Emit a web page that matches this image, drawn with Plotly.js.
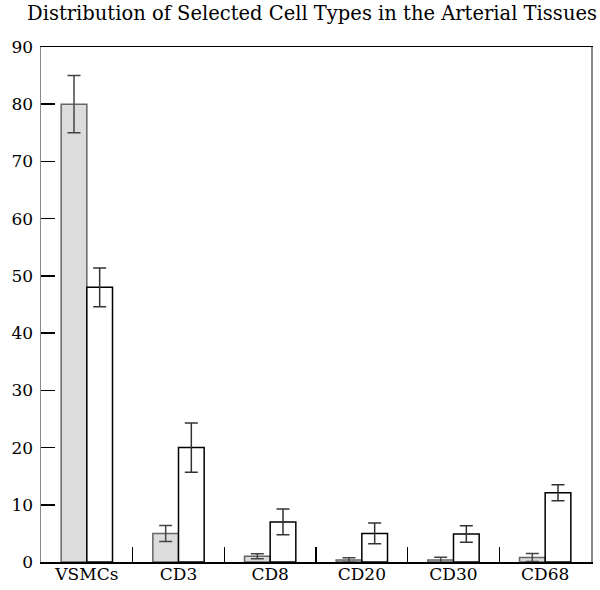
<!DOCTYPE html>
<html>
<head>
<meta charset="utf-8">
<script src="https://cdn.plot.ly/plotly-3.0.1.min.js"></script>
<style>html,body{margin:0;padding:0;background:#fff;}#chart{width:600px;height:590px;}</style>
</head>
<body>
<div id="chart"></div>
<script>
const categories = ["VSMCs", "CD3", "CD8", "CD20", "CD30", "CD68"];
const grayValues = [80, 5, 1, 0.35, 0.35, 0.8];
const grayErrors = [5, 1.4, 0.45, 0.4, 0.5, 0.7];
const whiteValues = [48, 20, 7, 5, 4.9, 12.1];
const whiteErrors = [3.4, 4.3, 2.25, 1.8, 1.45, 1.4];
const yTicks = [0, 10, 20, 30, 40, 50, 60, 70, 80, 90];

const font = {family: "DejaVu Serif", size: 17, color: "#000"};

const traces = [
  {
    type: "bar", x: categories, y: grayValues,
    marker: {color: "#dcdcdc", line: {color: "#666", width: 1.5}},
    error_y: {type: "data", array: grayErrors, visible: true, color: "#444", thickness: 1.5, width: 6.5},
    showlegend: false, hoverinfo: "skip"
  },
  {
    type: "bar", x: categories, y: whiteValues,
    marker: {color: "#ffffff", line: {color: "#000", width: 1.5}},
    error_y: {type: "data", array: whiteErrors, visible: true, color: "#333", thickness: 1.5, width: 6.5},
    showlegend: false, hoverinfo: "skip"
  }
];

const layout = {
  width: 600, height: 590,
  margin: {l: 41, r: 9, t: 47, b: 28, pad: 0},
  paper_bgcolor: "#fff", plot_bgcolor: "#fff",
  font: font,
  title: {text: "Distribution of Selected Cell Types in the Arterial Tissues", font: {family: "DejaVu Serif", size: 19.5, color: "#000"}, x: 0.52, xanchor: "center", y: 0.99, yanchor: "top"},
  barmode: "group", bargap: 0.44, bargroupgap: 0,
  xaxis: {
    type: "category", showgrid: false, zeroline: false,
    showline: true, linecolor: "#000", linewidth: 1.5, mirror: true,
    ticks: "inside", tickson: "boundaries", ticklen: 15, tickcolor: "#000", tickwidth: 1.5,
    tickfont: font, automargin: false, ticklabelstandoff: -4
  },
  yaxis: {
    range: [0, 90], tickvals: yTicks, ticktext: yTicks.map(String),
    showgrid: false, zeroline: false,
    showline: true, linecolor: "#888", linewidth: 1.5, mirror: true,
    ticks: "inside", ticklen: 14, tickcolor: "#000", tickwidth: 1.5,
    tickfont: font, automargin: false, ticklabelstandoff: 3
  }
};

Plotly.newPlot("chart", traces, layout, {displayModeBar: false, staticPlot: true});
</script>
</body>
</html>
